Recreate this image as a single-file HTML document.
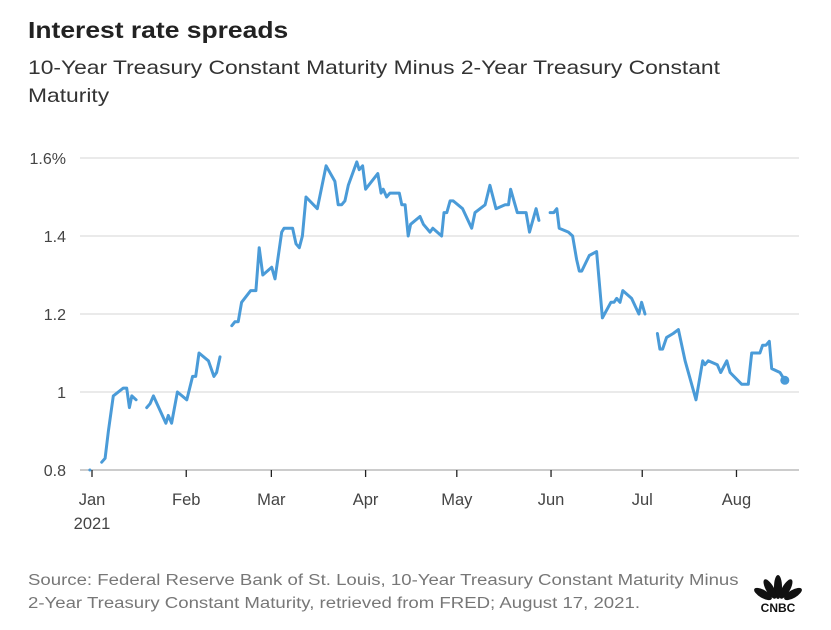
<!DOCTYPE html>
<html><head><meta charset="utf-8">
<style>
body{margin:0;background:#fff;font-family:"Liberation Sans",sans-serif;}
#wrap{position:relative;width:831px;height:630px;overflow:hidden;}
.t{position:absolute;white-space:nowrap;transform-origin:0 0;}
</style></head>
<body>
<div id="wrap">
<div class="t" style="left:28px;top:17px;font-size:23px;font-weight:bold;color:#222;transform:scaleX(1.15);">Interest rate spreads</div>
<div class="t" style="left:28px;top:54px;font-size:19.5px;color:#333;line-height:28px;transform:scaleX(1.17);">10-Year Treasury Constant Maturity Minus 2-Year Treasury Constant<br>Maturity</div>
<svg id="chart" width="831" height="630" style="position:absolute;left:0;top:0;"></svg>
<div class="t" style="left:28px;top:569px;font-size:15.5px;color:#777;line-height:23px;transform:scaleX(1.20);">Source: Federal Reserve Bank of St. Louis, 10-Year Treasury Constant Maturity Minus<br>2-Year Treasury Constant Maturity, retrieved from FRED; August 17, 2021.</div>
<svg width="60" height="50" style="position:absolute;left:748px;top:567px;">
<g fill="#111">
<ellipse cx="30" cy="20" rx="4" ry="12"/>
<ellipse cx="22" cy="22" rx="4" ry="11" transform="rotate(-30 22 22)"/>
<ellipse cx="38" cy="22" rx="4" ry="11" transform="rotate(30 38 22)"/>
<ellipse cx="15" cy="27" rx="4" ry="10" transform="rotate(-60 15 27)"/>
<ellipse cx="45" cy="27" rx="4" ry="10" transform="rotate(60 45 27)"/>
</g>
<text x="30" y="45" text-anchor="middle" font-family="Liberation Sans" font-weight="bold" font-size="12" fill="#111">CNBC</text>
</svg>
</div>
<script>
const days=[-0.7,null,3.2,4.3,5.4,7.0,10.3,11.4,12.3,13.1,14.5,null,18.0,19.1,20.2,24.3,25.1,26.2,28.1,31.2,33.1,34.1,35.2,38.3,40.1,41.0,42.1,null,46.0,47.0,48.1,49.2,52.2,53.9,55.0,56.2,59.1,60.2,62.4,63.2,66.0,67.1,68.2,69.2,70.4,74.1,77.0,79.9,81.0,82.1,83.2,84.3,87.1,87.9,89.0,90.0,94.0,95.1,95.8,96.9,98.0,101.1,101.9,103.0,104.0,104.8,107.9,109.0,111.2,112.1,115.0,115.8,116.7,117.8,118.8,121.9,124.9,126.0,129.3,130.9,132.9,135.9,137.0,137.7,139.9,142.8,143.9,146.1,147.0,null,150.7,151.9,152.9,153.7,156.7,158.1,159.4,160.3,161.1,163.6,166.0,167.9,170.7,171.7,172.6,173.7,174.6,177.5,179.9,180.8,181.9,null,186.0,186.8,187.7,189.0,191.2,192.9,195.1,198.7,200.9,201.6,202.7,205.7,206.8,208.8,209.9,213.7,215.9,217.0,219.7,220.6,221.7,222.8,223.6,226.3,227.9];
const spread=[0.80,null,0.82,0.83,0.90,0.99,1.01,1.01,0.96,0.99,0.98,null,0.96,0.97,0.99,0.92,0.94,0.92,1.00,0.98,1.04,1.04,1.10,1.08,1.04,1.05,1.09,null,1.17,1.18,1.18,1.23,1.26,1.26,1.37,1.30,1.32,1.29,1.41,1.42,1.42,1.38,1.37,1.40,1.50,1.47,1.58,1.54,1.48,1.48,1.49,1.53,1.59,1.57,1.58,1.52,1.56,1.51,1.52,1.50,1.51,1.51,1.48,1.48,1.40,1.43,1.45,1.43,1.41,1.42,1.40,1.46,1.46,1.49,1.49,1.47,1.42,1.46,1.48,1.53,1.47,1.48,1.48,1.52,1.46,1.46,1.41,1.47,1.44,null,1.46,1.46,1.47,1.42,1.41,1.40,1.34,1.31,1.31,1.35,1.36,1.19,1.23,1.23,1.24,1.23,1.26,1.24,1.20,1.23,1.20,null,1.15,1.11,1.11,1.14,1.15,1.16,1.08,0.98,1.08,1.07,1.08,1.07,1.05,1.08,1.05,1.02,1.02,1.10,1.10,1.12,1.12,1.13,1.06,1.05,1.03];
const yTicks=[0.8,1.0,1.2,1.4,1.6];
const yTickLabels=["0.8","1","1.2","1.4","1.6%"];
const monthStarts=[0,31,59,90,120,151,181,212];
const monthLabels=["Jan","Feb","Mar","Apr","May","Jun","Jul","Aug"];

const NS="http://www.w3.org/2000/svg";
const svg=document.getElementById('chart');
const xS=d=>92+d*3.04;
const yS=v=>470-(v-0.8)*390;
function mk(t,a){const e=document.createElementNS(NS,t);for(const k in a)e.setAttribute(k,a[k]);svg.appendChild(e);return e;}
yTicks.forEach((v,i)=>{
  const g=mk('line',{x1:80,x2:799,y1:yS(v),y2:yS(v),stroke:i===0?'#ccc':'#ddd','stroke-width':i===0?2:1.3});
  
  
  const t=mk('text',{x:66,y:yS(v)+6,'text-anchor':'end','font-size':16,fill:'#444','font-family':'Liberation Sans'});
  t.textContent=yTickLabels[i];
  
  
});
monthStarts.forEach((d,i)=>{
  const tk=mk('line',{x1:xS(d),x2:xS(d),y1:470,y2:477,stroke:'#222','stroke-width':1.3});
  
  
  const t=mk('text',{x:xS(d),y:505,'text-anchor':'middle','font-size':16.5,fill:'#444','font-family':'Liberation Sans'});
  t.textContent=monthLabels[i];
  
  
});
const yr=mk('text',{x:xS(0),y:529,'text-anchor':'middle','font-size':16.5,fill:'#444','font-family':'Liberation Sans'});
yr.textContent='2021';


let d='',pen=false;
for(let i=0;i<days.length;i++){
  if(days[i]===null||spread[i]===null){pen=false;continue;}
  d+=(pen?'L':'M')+xS(days[i]).toFixed(1)+','+yS(spread[i]).toFixed(1);
  pen=true;
}
const p=mk('path',{d:d,fill:'none',stroke:'#4a9bd8','stroke-width':3,'stroke-linejoin':'round','stroke-linecap':'round'});


const n=days.length-1;
const dot=mk('circle',{cx:xS(days[n]),cy:yS(spread[n]),r:4.5,fill:'#4a9bd8'});


const d0=mk('circle',{cx:xS(days[0]),cy:yS(spread[0]),r:1.5,fill:'#4a9bd8'});


</script>
</body></html>
